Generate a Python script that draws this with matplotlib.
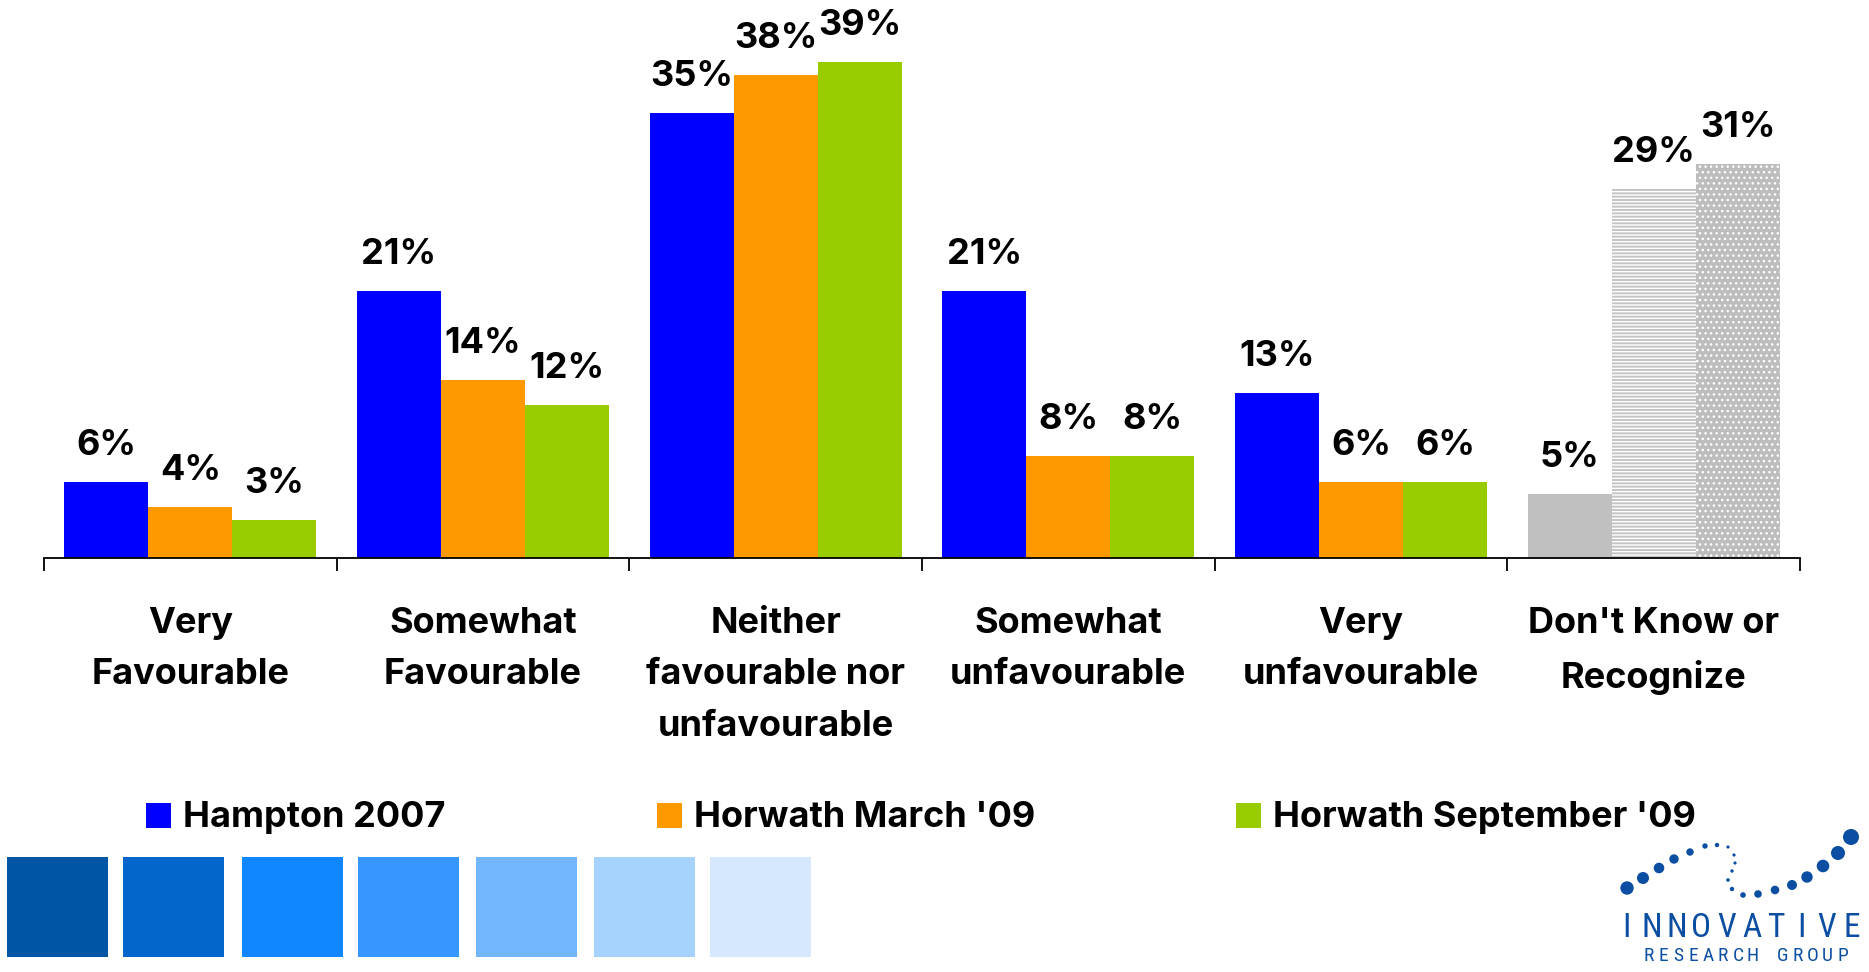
import numpy as np
import matplotlib
matplotlib.use("Agg")
import matplotlib.pyplot as plt
from matplotlib.patches import Rectangle, Circle
from matplotlib.font_manager import fontManager

# Data
categories = [
    "Very\nFavourable",
    "Somewhat\nFavourable",
    "Neither\nfavourable nor\nunfavourable",
    "Somewhat\nunfavourable",
    "Very\nunfavourable",
    "Don't Know or\nRecognize",
]
series_names = ["Hampton 2007", "Horwath March '09", "Horwath September '09"]
hampton_2007 = [6, 21, 35, 21, 13, 5]
horwath_mar09 = [4, 14, 38, 8, 6, 29]
horwath_sep09 = [3, 12, 39, 8, 6, 31]

series_colors = ["#0000FF", "#FF9900", "#99CC00"]
# the "Don't know" group is drawn in greys with patterns
dk_colors = ["#C0C0C0", "#C4C4C4", "#BDBDBD"]
dk_hatches = [None, "-----", "..."]

swatch_colors = ["#0055A5", "#0366CC", "#1086FF", "#3597FF", "#72B7FD", "#A6D3FD", "#D5E8FD"]
logo_blue = "#0B4EA2"

installed = {f.name for f in fontManager.ttflist}
main_font = "Inter" if "Inter" in installed else "Liberation Sans"
logo_font = "Liberation Sans"
for cand in ["Liberation Sans Narrow", "Roboto Condensed", "DejaVu Sans Condensed"]:
    if cand in installed:
        logo_font = cand
        break

plt.rcParams["font.family"] = [main_font, "DejaVu Sans"]
plt.rcParams["hatch.linewidth"] = 1.0

W, H = 1869, 972
fig = plt.figure(figsize=(W / 100, H / 100), dpi=100)

# main axes: x 44..1800 px, baseline at y=558 px, top at 0
ax = fig.add_axes([44 / W, (H - 558) / H, (1800 - 44) / W, 558 / H])

x = np.arange(len(categories))
bw = 0.287
all_series = [hampton_2007, horwath_mar09, horwath_sep09]

for k, vals in enumerate(all_series):
    faces = [series_colors[k]] * (len(vals) - 1) + [dk_colors[k]]
    bars = ax.bar(x + (k - 1) * bw, vals, width=bw, color=faces,
                  edgecolor="white", linewidth=0)
    if dk_hatches[k]:
        bars[-1].set_hatch(dk_hatches[k])
    for xi, v in zip(x + (k - 1) * bw, vals):
        ax.annotate(f"{v}%", (xi, v), xytext=(0, 19.5), textcoords="offset points",
                    ha="center", va="baseline", fontsize=26, fontweight="bold")

ax.set_xlim(-0.5, len(categories) - 0.5)
ax.set_ylim(0, 558 / 12.72)
for s in ["top", "right", "left"]:
    ax.spines[s].set_visible(False)
ax.spines["bottom"].set_linewidth(1.3)
ax.set_yticks([])

ax.set_xticks(x, categories)
ax.set_xticks(np.arange(-0.5, len(categories), 1), minor=True)
ax.tick_params(axis="x", which="major", length=0, pad=35, labelsize=26)
ax.tick_params(axis="x", which="minor", length=9.5, width=1.3, direction="out")
for lbl in ax.get_xticklabels():
    lbl.set_fontweight("bold")
    lbl.set_linespacing(1.72)
    lbl.set_multialignment("center")

# overlay in pixel coordinates for legend, swatches and logo
ov = fig.add_axes([0, 0, 1, 1])
ov.set_xlim(0, W)
ov.set_ylim(H, 0)
ov.axis("off")

legend_x = [146, 657, 1236]
for lx, name, col in zip(legend_x, series_names, series_colors):
    ov.add_patch(Rectangle((lx, 803), 25, 25, facecolor=col, linewidth=0))
    ov.text(lx + 37, 827, name, fontsize=26, fontweight="bold", va="baseline", ha="left")

swatch_left = [7, 123, 242, 358, 476, 594, 710]
for sx, col in zip(swatch_left, swatch_colors):
    ov.add_patch(Rectangle((sx, 857), 101, 100, facecolor=col, linewidth=0))

# logo dots (x, y, radius) in pixels
logo_dots = [
    (1627, 888, 6.7), (1643, 878, 6.0), (1659, 868, 5.3), (1674, 859, 4.7),
    (1690, 852, 3.7), (1705, 846, 2.7), (1717, 845, 2.2), (1728, 847, 1.6),
    (1734, 855, 1.6), (1735, 863, 1.6), (1732, 871, 1.7), (1728, 880, 1.8),
    (1732, 889, 2.2), (1743, 895, 2.8), (1758, 894, 3.8), (1775, 890, 4.3),
    (1792, 885, 5.0), (1807, 877, 5.7), (1823, 866, 6.3), (1838, 853, 7.0),
    (1851, 837, 8.0),
]
for dx, dy, r in logo_dots:
    ov.add_patch(Circle((dx, dy), r, facecolor=logo_blue, linewidth=0))


def draw_word(word, left, right, baseline, size):
    pitch = (right - left) / len(word)
    for i, ch in enumerate(word):
        ov.text(left + pitch * (i + 0.5), baseline, ch, fontsize=size, color=logo_blue,
                family=logo_font, ha="center", va="baseline")


draw_word("INNOVATIVE", 1614, 1864, 937, 24)
draw_word("RESEARCH GROUP", 1641, 1850, 961, 14)

fig.savefig("out.png", dpi=100)
